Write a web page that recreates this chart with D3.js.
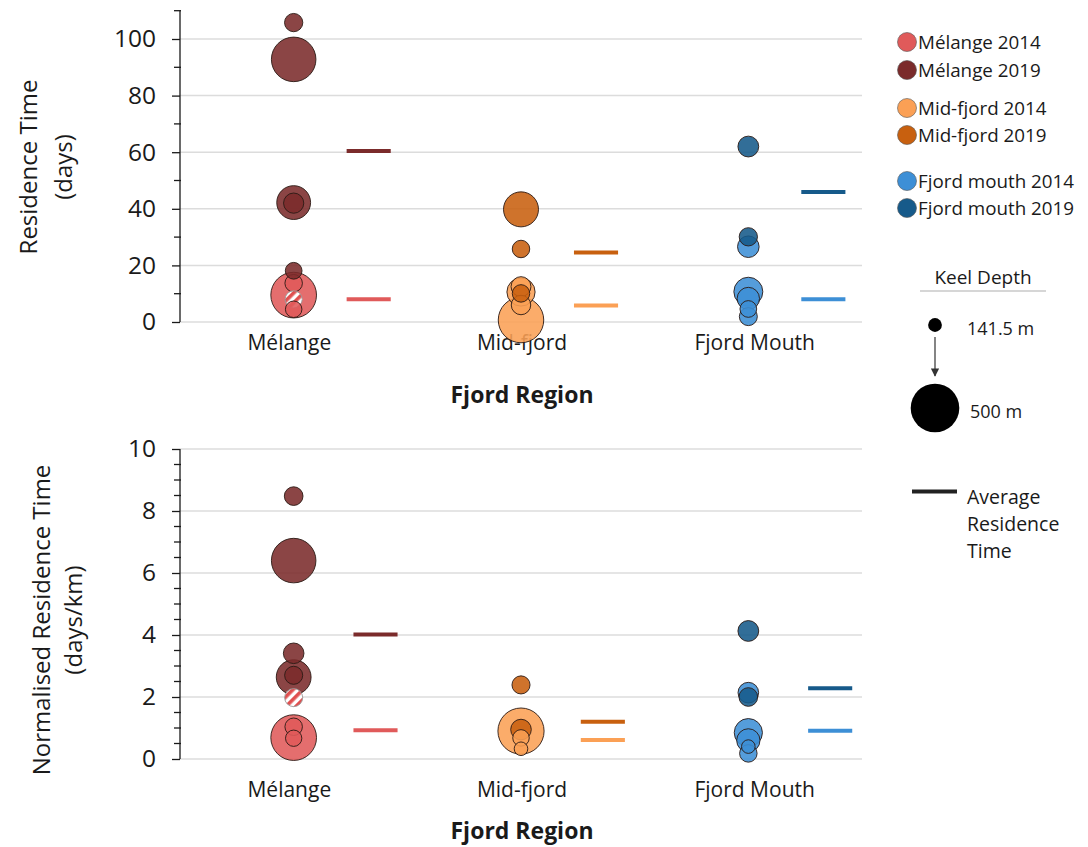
<!DOCTYPE html>
<html>
<head>
<meta charset="utf-8">
<script src="https://cdn.jsdelivr.net/npm/d3@7"></script>
<style>
  body { margin: 0; background: #fff; }
  text { font-family: "Open Sans", "Noto Sans", sans-serif; fill: #1a1a1a; }
</style>
</head>
<body>
<svg id="chart" width="1088" height="847"></svg>
<script>
// ---- Categories and series -------------------------------------------------
const regions = ["Mélange", "Mid-fjord", "Fjord Mouth"];
const seriesLabels = ["Mélange 2014", "Mélange 2019", "Mid-fjord 2014", "Mid-fjord 2019", "Fjord mouth 2014", "Fjord mouth 2019"];
const seriesRegion = [0, 0, 1, 1, 2, 2];
const seriesColors = ["#e05a5a", "#7b2b2b", "#fba055", "#c8600f", "#3d8fd6", "#165a8a"];

// ---- Residence time (days), each point: [days, keel depth m] -----------------
const melange2014Days   = [[9.5, 470], [13.7, 180], [4.5, 170]];
const melange2019Days   = [[105.8, 188], [92.8, 458], [42.2, 348], [42.0, 208], [18.1, 172]];
const midfjord2014Days  = [[0.7, 468], [12.5, 205], [10.6, 290], [6.0, 200]];
const midfjord2019Days  = [[39.8, 360], [25.8, 180], [10.1, 180]];
const mouth2014Days     = [[26.6, 222], [10.7, 298], [8.3, 230], [4.6, 172], [1.9, 185]];
const mouth2019Days     = [[62.0, 214], [30.1, 188]];
const flaggedDays       = [[8.0, 176]];   // hatched Mélange 2014 point

// average residence time (days) per series
const avgDays = [8.0, 60.4, 5.8, 24.6, 8.0, 45.9];

// ---- Normalised residence time (days/km), [days/km, keel depth m] ------------
const melange2014Norm   = [[0.69, 470], [1.04, 180], [0.67, 168]];
const melange2019Norm   = [[8.48, 192], [6.4, 458], [3.41, 212], [2.64, 358], [2.7, 186]];
const midfjord2014Norm  = [[0.9, 475], [0.68, 170], [0.33, 140]];
const midfjord2019Norm  = [[2.39, 186], [0.95, 212]];
const mouth2014Norm     = [[2.14, 212], [0.85, 290], [0.6, 240], [0.4, 140], [0.18, 180]];
const mouth2019Norm     = [[4.13, 214], [2.0, 192]];
const flaggedNorm       = [[1.98, 186]];

const avgNorm = [0.93, 4.02, 0.61, 1.2, 0.91, 2.28];

// ---- Axis ticks -------------------------------------------------------------
const daysTicks = [0, 20, 40, 60, 80, 100];
const daysMinor = [10, 30, 50, 70, 90, 110];
const normTicks = [0, 2, 4, 6, 8, 10];
const normMinor = [0.5, 1, 1.5, 2.5, 3, 3.5, 4.5, 5, 5.5, 6.5, 7, 7.5, 8.5, 9, 9.5];

// ---- Legend keel depth examples -----------------------------------------------
const keelLegendDepths = [141.5, 500];
const keelLegendLabels = ["141.5 m", "500 m"];

const svg = d3.select("#chart");
const defs = svg.append("defs");
const hatch = defs.append("pattern")
  .attr("id", "hatch").attr("patternUnits", "userSpaceOnUse")
  .attr("width", 7).attr("height", 7).attr("patternTransform", "rotate(45)");
hatch.append("rect").attr("width", 7).attr("height", 7).attr("fill", "#ffffff");
hatch.append("rect").attr("width", 3.6).attr("height", 7).attr("fill", "#e05050");

const rScale = d3.scaleLinear().domain([0, 500]).range([0, 24.3]);
const xScale = d3.scaleLinear().domain([0.5, 3.5]).range([180, 862]);
const labelBand = d3.scaleBand().domain(regions).range([173, 871]);

function drawPanel(cfg) {
  const g = svg.append("g");
  const y = cfg.y;
  const [x0, x1] = xScale.range();

  // gridlines
  g.selectAll(".grid").data(cfg.ticks).join("line")
    .attr("x1", x0).attr("x2", x1)
    .attr("y1", d => y(d)).attr("y2", d => y(d))
    .attr("stroke", "#dcdcdc").attr("stroke-width", 1.5);

  // y axis
  const axis = d3.axisLeft(y).tickValues(cfg.ticks).tickSize(8).tickPadding(16)
    .tickFormat(d3.format("d"));
  const ax = g.append("g").attr("transform", `translate(${x0},0)`).call(axis);
  ax.select(".domain").attr("stroke", "#1a1a1a").attr("stroke-width", 1.3)
    .attr("d", `M-0,${y(cfg.top)}V${y(0)}`);
  ax.selectAll(".tick line").attr("stroke", "#1a1a1a").attr("stroke-width", 1.3);
  ax.selectAll(".tick text").attr("font-size", 24.5).attr("fill", "#1a1a1a")
    .style("font-family", '"Open Sans", sans-serif');
  g.selectAll(".minor").data(cfg.minor).join("line")
    .attr("x1", x0 - 6).attr("x2", x0 + 1)
    .attr("y1", d => y(d)).attr("y2", d => y(d))
    .attr("stroke", "#1a1a1a").attr("stroke-width", 1.3);

  // y title
  cfg.yTitle.forEach((t, i) => {
    g.append("text")
      .attr("transform", `translate(${cfg.yTitleX[i]},${cfg.yTitleMid}) rotate(-90)`)
      .attr("text-anchor", "middle").attr("font-size", 24).text(t);
  });

  // category labels + x title
  g.selectAll(".cat").data(regions).join("text")
    .attr("x", d => labelBand(d) + labelBand.bandwidth() / 2)
    .attr("y", cfg.catY).attr("text-anchor", "middle").attr("font-size", 21).text(d => d);
  g.append("text").attr("x", 522).attr("y", cfg.titleY).attr("text-anchor", "middle")
    .attr("font-size", 23).attr("font-weight", "bold").text("Fjord Region");

  // average lines
  g.selectAll(".avg").data(cfg.avg).join("line")
    .attr("x1", (d, i) => xScale(seriesRegion[i] + 1 + cfg.avgOffset - 0.097))
    .attr("x2", (d, i) => xScale(seriesRegion[i] + 1 + cfg.avgOffset + 0.097))
    .attr("y1", d => y(d)).attr("y2", d => y(d))
    .attr("stroke", (d, i) => seriesColors[i]).attr("stroke-width", 4);

  // bubbles: larger ones behind smaller ones
  const pts = [];
  cfg.series.forEach((arr, si) => arr.forEach(([v, depth]) =>
    pts.push({ v, depth, fill: seriesColors[si], region: seriesRegion[si], si })));
  cfg.flagged.forEach(([v, depth]) =>
    pts.push({ v, depth, fill: "url(#hatch)", region: 0, si: 9, flagged: true }));
  pts.sort((a, b) => d3.descending(rScale(a.depth), rScale(b.depth)) || a.si - b.si);

  g.selectAll(".bubble").data(pts).join("circle")
    .attr("cx", d => xScale(d.region + 1))
    .attr("cy", d => y(d.v))
    .attr("r", d => rScale(d.depth))
    .attr("fill", d => d.fill)
    .attr("fill-opacity", d => d.flagged ? 1 : 0.88)
    .attr("stroke", d => d.flagged ? "#9a9a9a" : "#2a1a14")
    .attr("stroke-width", 0.9);
}

drawPanel({
  y: d3.scaleLinear().domain([0, 110]).range([322, 10.7]),
  top: 110, ticks: daysTicks, minor: daysMinor,
  yTitle: ["Residence Time", "(days)"], yTitleX: [37, 72], yTitleMid: 167,
  catY: 350, titleY: 403, avg: avgDays, avgOffset: 0.33,
  series: [melange2014Days, melange2019Days, midfjord2014Days, midfjord2019Days, mouth2014Days, mouth2019Days],
  flagged: flaggedDays
});

drawPanel({
  y: d3.scaleLinear().domain([0, 10]).range([759, 449]),
  top: 10, ticks: normTicks, minor: normMinor,
  yTitle: ["Normalised Residence Time", "(days/km)"], yTitleX: [50, 82], yTitleMid: 620,
  catY: 797, titleY: 839, avg: avgNorm, avgOffset: 0.36,
  series: [melange2014Norm, melange2019Norm, midfjord2014Norm, midfjord2019Norm, mouth2014Norm, mouth2019Norm],
  flagged: flaggedNorm
});

// ---- Legend -----------------------------------------------------------------
const leg = svg.append("g");
const legendY = [42, 70, 108, 135, 181, 208];
seriesLabels.forEach((s, i) => {
  leg.append("circle").attr("cx", 907).attr("cy", legendY[i]).attr("r", 9.5)
    .attr("fill", seriesColors[i]).attr("stroke", "#555").attr("stroke-width", 0.6);
  leg.append("text").attr("x", 918).attr("y", legendY[i] + 6.5)
    .attr("font-size", 18.8).text(s);
});

leg.append("text").attr("x", 983).attr("y", 284).attr("text-anchor", "middle")
  .attr("font-size", 19).text("Keel Depth");
leg.append("line").attr("x1", 920).attr("x2", 1046).attr("y1", 291).attr("y2", 291)
  .attr("stroke", "#c8c8c8").attr("stroke-width", 1.5);

const keelY = [325, 408];
const keelTextX = [967, 970];
keelLegendDepths.forEach((d, i) => {
  leg.append("circle").attr("cx", 935).attr("cy", keelY[i]).attr("r", rScale(d)).attr("fill", "#000");
  leg.append("text").attr("x", keelTextX[i]).attr("y", keelY[i] + 10)
    .attr("font-size", 18).text(keelLegendLabels[i]);
});
defs.append("marker").attr("id", "arrow").attr("viewBox", "0 0 10 10")
  .attr("refX", 9).attr("refY", 5).attr("markerWidth", 7).attr("markerHeight", 7)
  .attr("orient", "auto")
  .append("path").attr("d", "M0,0L10,5L0,10Z").attr("fill", "#333");
leg.append("line").attr("x1", 935).attr("x2", 935).attr("y1", 337).attr("y2", 376)
  .attr("stroke", "#333").attr("stroke-width", 1.2).attr("marker-end", "url(#arrow)");

leg.append("line").attr("x1", 912).attr("x2", 957).attr("y1", 491.5).attr("y2", 491.5)
  .attr("stroke", "#222").attr("stroke-width", 4);
["Average", "Residence", "Time"].forEach((t, i) => {
  leg.append("text").attr("x", 967).attr("y", 504 + i * 27).attr("font-size", 19.5).text(t);
});
</script>
</body>
</html>
